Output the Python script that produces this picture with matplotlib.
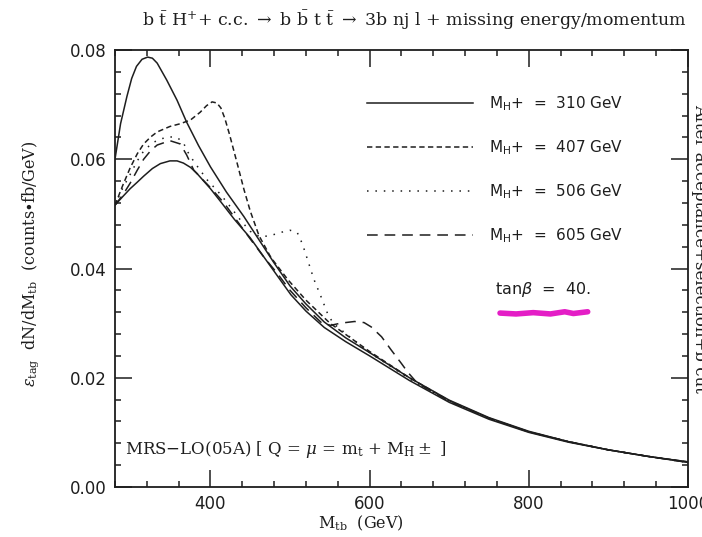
import numpy as np
import matplotlib.pyplot as plt
from matplotlib.ticker import MultipleLocator, FixedLocator

# curves: M_tb (GeV) and eps_tag dN/dM_tb (counts*fb/GeV)
m_310 = [280, 287, 295, 301, 307, 314, 321, 327, 333, 345, 358, 370, 385, 400, 420, 442,
         463, 480, 500, 520, 543, 570, 600, 650, 700, 750, 800, 850, 900, 950, 1000]
v_310 = [0.0600, 0.0665, 0.0715, 0.0748, 0.0770, 0.0783, 0.0787, 0.0785, 0.0776, 0.0745,
         0.0708, 0.0668, 0.0625, 0.0586, 0.0540, 0.0495, 0.0448, 0.0410, 0.0368, 0.0335,
         0.0302, 0.0273, 0.0246, 0.0200, 0.0159, 0.0127, 0.0102, 0.0083, 0.0068, 0.0056, 0.0046]

m_407 = [280, 290, 299, 308, 316, 325, 333, 349, 362, 375, 387, 395, 402, 408, 413, 418, 424,
         434, 442, 450, 461, 476, 497, 520, 550, 600, 650, 700, 750, 800, 850, 900, 950, 1000]
v_407 = [0.0516, 0.0553, 0.0584, 0.0610, 0.0628, 0.0641, 0.0650, 0.0660, 0.0665, 0.0672,
         0.0686, 0.0698, 0.0705, 0.0703, 0.0694, 0.0675, 0.0645, 0.0590, 0.0545, 0.0505,
         0.0460, 0.0420, 0.0380, 0.0342, 0.0300, 0.0248, 0.0200, 0.0158, 0.0126, 0.0101,
         0.0083, 0.0068, 0.0056, 0.0046]

m_506 = [280, 290, 299, 308, 316, 327, 337, 348, 358, 366, 372, 379, 388, 396, 413, 425, 438,
         450, 462, 475, 488, 500, 509, 514, 518, 522, 530, 539, 547, 554, 575, 600, 650,
         700, 750, 800, 850, 900, 950, 1000]
v_506 = [0.0516, 0.0548, 0.0572, 0.0597, 0.0615, 0.0630, 0.0637, 0.0641, 0.0640, 0.0630,
         0.0612, 0.0596, 0.0578, 0.0562, 0.0535, 0.0513, 0.0488, 0.0468, 0.0458, 0.0460,
         0.0466, 0.0470, 0.0466, 0.0450, 0.0434, 0.0416, 0.0380, 0.0348, 0.0318, 0.0300,
         0.0275, 0.0246, 0.0198, 0.0157, 0.0126, 0.0101, 0.0083, 0.0068, 0.0056, 0.0045]

m_605 = [280, 290, 299, 308, 316, 325, 333, 349, 362, 370, 379, 390, 400, 417, 434, 450, 467,
         484, 500, 520, 540, 551, 564, 581, 593, 602, 615, 627, 640, 648, 660, 700, 750, 800,
         850, 900, 950, 1000]
v_605 = [0.0516, 0.0535, 0.0556, 0.0580, 0.0600, 0.0616, 0.0626, 0.0634, 0.0628, 0.0608,
         0.0580, 0.0563, 0.0548, 0.0520, 0.0486, 0.0454, 0.0421, 0.0391, 0.0360, 0.0328,
         0.0300, 0.0296, 0.0300, 0.0303, 0.0301, 0.0293, 0.0275, 0.0251, 0.0226, 0.0210,
         0.0190, 0.0157, 0.0126, 0.0101, 0.0083, 0.0068, 0.0056, 0.0045]

# lowest solid curve (no legend entry)
m_low = [280, 290, 299, 308, 316, 327, 337, 349, 358, 366, 375, 383, 400, 413, 430, 450, 475,
         501, 520, 543, 570, 600, 650, 700, 750, 800, 850, 900, 950, 1000]
v_low = [0.0516, 0.0532, 0.0546, 0.0558, 0.0569, 0.0583, 0.0592, 0.0597, 0.0597, 0.0593,
         0.0585, 0.0574, 0.0546, 0.0522, 0.0490, 0.0456, 0.0405, 0.0352, 0.0322, 0.0292,
         0.0266, 0.0240, 0.0195, 0.0155, 0.0124, 0.0100, 0.0082, 0.0068, 0.0056, 0.0045]

labels = ["M$_{\\rm H}$+  =  310 GeV", "M$_{\\rm H}$+  =  407 GeV",
          "M$_{\\rm H}$+  =  506 GeV", "M$_{\\rm H}$+  =  605 GeV"]
y_ticks = [0.00, 0.02, 0.04, 0.06, 0.08]
x_ticks = [400, 600, 800, 1000]

ink = '#1e1e1e'
fig = plt.figure(figsize=(7.02, 5.37), dpi=100)
ax = fig.add_axes([0.1638, 0.0931, 0.8162, 0.8138])

ax.plot(m_310, v_310, color=ink, lw=1.1, label=labels[0])
ax.plot(m_407, v_407, color=ink, lw=1.1, dashes=(3.5, 2.2), label=labels[1])
ax.plot(m_506, v_506, color=ink, lw=1.1, dashes=(1, 4.5), label=labels[2])
ax.plot(m_605, v_605, color=ink, lw=1.1, dashes=(7, 4.5), label=labels[3])
ax.plot(m_low, v_low, color=ink, lw=1.1)

ax.set_xlim(280, 1000)
ax.set_ylim(0, 0.08)
ax.xaxis.set_major_locator(FixedLocator(x_ticks))
ax.xaxis.set_minor_locator(MultipleLocator(40))
ax.yaxis.set_major_locator(FixedLocator(y_ticks))
ax.yaxis.set_minor_locator(MultipleLocator(0.004))
ax.set_yticklabels(['%.2f' % t for t in y_ticks])
ax.tick_params(which='both', direction='in', top=True, right=True, colors=ink,
               labelsize=12, width=1.1)
ax.tick_params(which='major', length=12, pad=6)
ax.tick_params(which='minor', length=4)
for s in ax.spines.values():
    s.set_linewidth(1.3)
    s.set_color(ink)

leg = ax.legend(loc='upper left', bbox_to_anchor=(0.415, 0.93), frameon=False,
                handlelength=7.0, labelspacing=1.65, handletextpad=1.0,
                prop={'family': 'DejaVu Sans', 'size': 11})
for t in leg.get_texts():
    t.set_color(ink)

ax.text(0.663, 0.451, r"tan$\beta$  =  40.", transform=ax.transAxes, fontsize=11.5,
        color=ink, va='center', ha='left', family='DejaVu Sans')
# magenta highlighter stroke under tan(beta)
hx = np.array([0.672, 0.700, 0.730, 0.760, 0.785, 0.800, 0.825])
hy = np.array([0.398, 0.396, 0.399, 0.396, 0.401, 0.397, 0.401])
ax.plot(hx, hy, transform=ax.transAxes, color='#e41ec6', lw=4, solid_capstyle='round')

ax.text(0.017, 0.085, r"MRS$-$LO(05A) [ Q = $\mu$ = m$_{\rm t}$ + M$_{\rm H}\pm$ ]",
        transform=ax.transAxes, fontsize=12, color=ink, va='center', ha='left',
        family='DejaVu Serif', math_fontfamily='dejavuserif')

ax.set_xlabel(r"M$_{\rm tb}$  (GeV)", fontsize=11.5, color=ink, family='DejaVu Serif',
              math_fontfamily='dejavuserif')
ax.xaxis.set_label_coords(0.43, -0.062)
ax.set_ylabel(r"$\varepsilon_{\rm tag}$  dN/dM$_{\rm tb}$  (counts$\bullet$fb/GeV)",
              fontsize=11.5, color=ink, family='DejaVu Serif', math_fontfamily='dejavuserif')
ax.yaxis.set_label_coords(-0.13, 0.51)

fig.text(0.591, 0.962,
         r"b $\bar{\rm t}$ H$^{+}$+ c.c. $\rightarrow$ b $\bar{\rm b}$ t $\bar{\rm t}$ $\rightarrow$ 3b nj l + missing energy/momentum",
         fontsize=12.5, color=ink, ha='center', va='center', family='DejaVu Serif',
         math_fontfamily='dejavuserif')

fig.text(0.996, 0.538, "After acceptance+selection+b cut", rotation=-90, fontsize=12,
         color=ink, ha='center', va='center', family='DejaVu Serif')

fig.savefig('out.png', dpi=100)
